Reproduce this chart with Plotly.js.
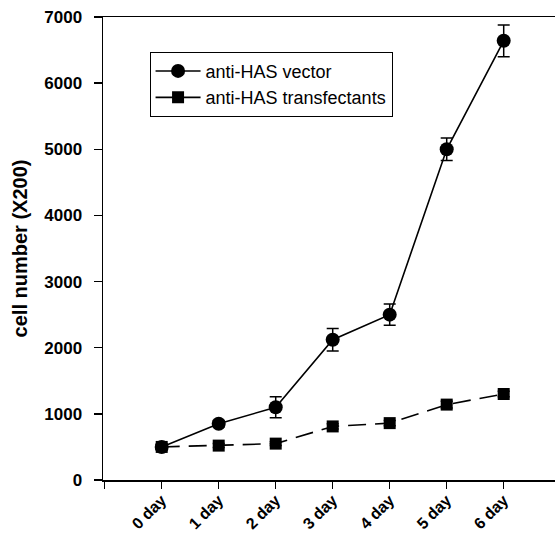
<!DOCTYPE html>
<html><head><meta charset="utf-8">
<script src="https://cdn.plot.ly/plotly-3.0.1.min.js"></script>
<style>body{margin:0;background:#fff}#c{width:558px;height:535px}</style>
</head><body><div id="c"></div>
<script>
const categories = ["0 day","1 day","2 day","3 day","4 day","5 day","6 day"];
const vectorValues = [500, 850, 1100, 2120, 2500, 5000, 6640];
const vectorErrors = [40, 50, 160, 170, 160, 170, 240];
const transValues = [500, 520, 550, 810, 860, 1140, 1300];
const transErrors = [30, 30, 30, 40, 40, 50, 40];
const yTicks = [0,1000,2000,3000,4000,5000,6000,7000];

const xs = categories.map((c,i)=>i);
const traces = [
  {x: xs, y: vectorValues, name: "anti-HAS vector", type: "scatter", mode: "lines+markers",
   line: {color: "#000", width: 1.6}, marker: {symbol: "circle", size: 14, color: "#000"},
   error_y: {type: "data", array: vectorErrors, visible: true, color: "#000", thickness: 1.5, width: 6}},
  {x: xs, y: transValues, name: "anti-HAS transfectants", type: "scatter", mode: "lines+markers",
   line: {color: "#000", width: 1.6, dash: "18px,9px"}, marker: {symbol: "square", size: 12, color: "#000"},
   error_y: {type: "data", array: transErrors, visible: true, color: "#000", thickness: 1.5, width: 6}}
];
const fam = "Liberation Sans, Arial, sans-serif";
const layout = {
  width: 558, height: 535,
  margin: {l: 103, r: 3, t: 17, b: 55},
  paper_bgcolor: "#fff", plot_bgcolor: "#fff",
  showlegend: true,
  legend: {x: 0.103, y: 0.925, xanchor: "left", yanchor: "top", bordercolor: "#000", borderwidth: 1,
           bgcolor: "#fff", itemwidth: 45, font: {family: fam, size: 18, color: "#000"}, tracegroupgap: 0},
  xaxis: {range: [-1.03, 6.9], tickvals: [-1].concat(xs), ticktext: [""].concat(categories),
          tickangle: -45, ticks: "outside", ticklen: 7, tickwidth: 1.3, tickcolor: "#000",
          ticklabelstandoff: -4,
          showline: true, linecolor: "#000", linewidth: 1.5, mirror: true, showgrid: false, zeroline: false,
          tickfont: {family: fam, size: 16, color: "#000", weight: "bold"}},
  yaxis: {range: [0, 7000], tickvals: yTicks, ticks: "outside", ticklen: 8, tickwidth: 1.3, tickcolor: "#000",
          ticklabelstandoff: 8,
          showline: true, linecolor: "#000", linewidth: 1.5, showgrid: false, zeroline: false,
          tickfont: {family: fam, size: 17, color: "#000", weight: "bold"},
          title: {text: "cell number (X200)", standoff: 11, font: {family: fam, size: 20, color: "#000", weight: "bold"}}}
};
Plotly.newPlot("c", traces, layout, {staticPlot: true});
</script></body></html>
